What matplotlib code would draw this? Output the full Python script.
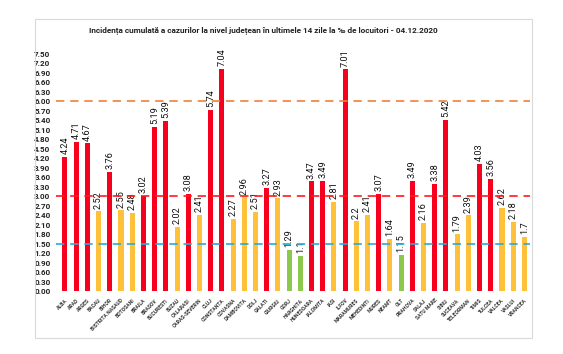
import matplotlib.pyplot as plt
from matplotlib.patches import Rectangle

plt.rcParams['font.family'] = ['Roboto', 'DejaVu Sans']

judete = ["ALBA", "ARAD", "ARGES", "BACAU", "BIHOR", "BISTRITA NASAUD", "BOTOSANI",
          "BRAILA", "BRASOV", "BUCURESTI", "BUZAU", "CALARASI", "CARAS-SEVERIN", "CLUJ",
          "CONSTANTA", "COVASNA", "DAMBOVITA", "DOLJ", "GALATI", "GIURGIU", "GORJ",
          "HARGHITA", "HUNEDOARA", "IALOMITA", "IASI", "ILFOV", "MARAMURES", "MEHEDINTI",
          "MURES", "NEAMT", "OLT", "PRAHOVA", "SALAJ", "SATU MARE", "SIBIU", "SUCEAVA",
          "TELEORMAN", "TIMIS", "TULCEA", "VALCEA", "VASLUI", "VRANCEA"]
incidenta = [4.24, 4.71, 4.67, 2.52, 3.76, 2.55, 2.48, 3.02, 5.19, 5.39, 2.02, 3.08,
             2.41, 5.74, 7.04, 2.27, 2.96, 2.51, 3.27, 2.93, 1.29, 1.1, 3.47, 3.49,
             2.81, 7.01, 2.2, 2.41, 3.07, 1.64, 1.15, 3.49, 2.16, 3.38, 5.42, 1.79,
             2.39, 4.03, 3.56, 2.62, 2.18, 1.7]
etichete = ["4.24", "4.71", "4.67", "2.52", "3.76", "2.55", "2.48", "3.02", "5.19", "5.39",
            "2.02", "3.08", "2.41", "5.74", "7.04", "2.27", "2.96", "2.51", "3.27", "2.93",
            "1.29", "1.1", "3.47", "3.49", "2.81", "7.01", "2.2", "2.41", "3.07", "1.64",
            "1.15", "3.49", "2.16", "3.38", "5.42", "1.79", "2.39", "4.03", "3.56", "2.62",
            "2.18", "1.7"]
praguri = [6.0, 3.0, 1.5]
culori_prag = ['#F0803A', '#FF1A1A', '#2AAAD8']


def culoare(v):
    if v > 3:
        return '#F7001E'
    if v >= 1.5:
        return '#FFC139'
    return '#8CC84B'


fig = plt.figure(figsize=(5.63, 3.54), dpi=100)
W, H = 563, 354
ax = fig.add_axes([56 / W, 1 - 291 / H, (530 - 56) / W, (291 - 54) / H])

x = list(range(len(judete)))
ax.bar(x, incidenta, width=0.45, color=[culoare(v) for v in incidenta], zorder=2)
for i, v, t in zip(x, incidenta, etichete):
    ax.text(i, v + 0.09, t, rotation=90, ha='center', va='bottom',
            fontsize=6.6, color='#111111')

for p, c in zip(praguri, culori_prag):
    ax.axhline(p, color=c, linestyle=(0, (5, 3.5)), linewidth=1.2, zorder=3)

ax.set_xlim(-0.8, 41.5)
ax.set_ylim(0, 7.5)
ax.set_yticks([i * 0.3 for i in range(26)])
ax.set_yticklabels(["{:.2f}".format(i * 0.3) for i in range(26)],
                   fontsize=5.8, fontweight='bold', color='#222222')
ax.set_xticks(x)
ax.set_xticklabels(judete, rotation=45, ha='right', rotation_mode='anchor',
                   fontsize=3.6, fontweight='bold', color='#333333')
ax.tick_params(axis='both', length=0)
ax.tick_params(axis='x', pad=5)
ax.tick_params(axis='y', pad=4)
for s in ax.spines.values():
    s.set_visible(False)

fig.patches.append(Rectangle((35 / W, 1 - 338 / H), (532 - 35) / W, (338 - 19) / H,
                             transform=fig.transFigure, fill=False,
                             edgecolor='#D9D9D9', linewidth=0.8))
fig.text(263 / W, 1 - 31 / H,
         "Incidența cumulată a cazurilor la nivel județean în ultimele 14 zile la ‰ de locuitori - 04.12.2020",
         ha='center', va='center', fontsize=5.95, fontweight='bold', color='#222222')

fig.savefig("out.png", dpi=100)
